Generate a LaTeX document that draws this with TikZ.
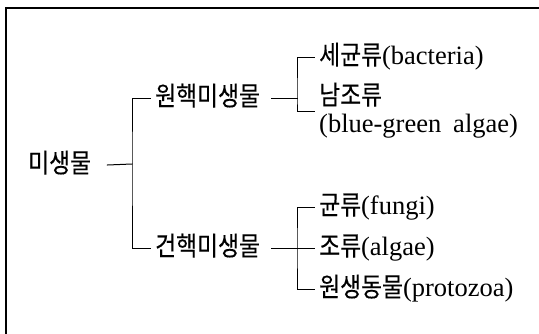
\documentclass[tikz,border=0pt]{standalone}
\usepackage{fontspec}
\setmainfont{Liberation Serif}
\newfontfamily\kr[Scale=1.0,FakeStretch=0.86,FakeBold=0.3]{Noto Sans CJK KR}
\usetikzlibrary{calc}
\tikzset{
  item/.style={anchor=west, inner sep=0pt, text height=20pt, text depth=5pt,
    font=\fontsize{26.5}{31}\selectfont},
  branch/.style={line width=1pt},
}
\begin{document}
\begin{tikzpicture}[x=1pt,y=-1pt, line cap=rect, line join=miter]
	\useasboundingbox (0,0) rectangle (539,333);
	\draw[line width=1.6pt] (539,8) -- (6,8) -- (6,333);
	%\draw[help lines,step=20] (0,0) grid (539,333);
	\node[item] (mi) at (28,165) {\kr 미생물};
	\node[item] (pro) at (155,98) {\kr 원핵미생물};
	\node[item] (euk) at (155,248) {\kr 건핵미생물};
	\node[item] (bac) at (319,57) {{\kr 세균류}(bacteria)};
	\node[item] (cya) at (319,97) {\kr 남조류};
	\node[item] (cyb) at (319,125) {(blue-green\hspace{0.45em}algae)};
	\node[item] (fun) at (319,207) {{\kr 균류}(fungi)};
	\node[item] (alg) at (319,248) {{\kr 조류}(algae)};
	\node[item] (prz) at (319,289) {{\kr 원생동물}(protozoa)};
	\coordinate (j1) at (132,164);
	\coordinate (j2) at (297,98);
	\coordinate (j3) at (297,248);
	\coordinate (cy) at ($(cya.west)!0.5!(cyb.west)$);
	\draw[branch] ([xshift=16pt]mi.east) -- (j1);
	\draw[branch] ([xshift=-5pt]pro.west) -| (j1) |- ([xshift=-5pt]euk.west);
	\draw[branch] ([xshift=11pt]pro.east) -- (j2);
	\draw[branch] ([xshift=-5pt]bac.west) -| (j2) |- ([xshift=-5pt]cy);
	\draw[branch] ([xshift=11pt]euk.east) -- ([xshift=-5pt]alg.west);
	\draw[branch] ([xshift=-5pt]fun.west) -| (j3) |- ([xshift=-5pt]prz.west);
\end{tikzpicture}
\end{document}
